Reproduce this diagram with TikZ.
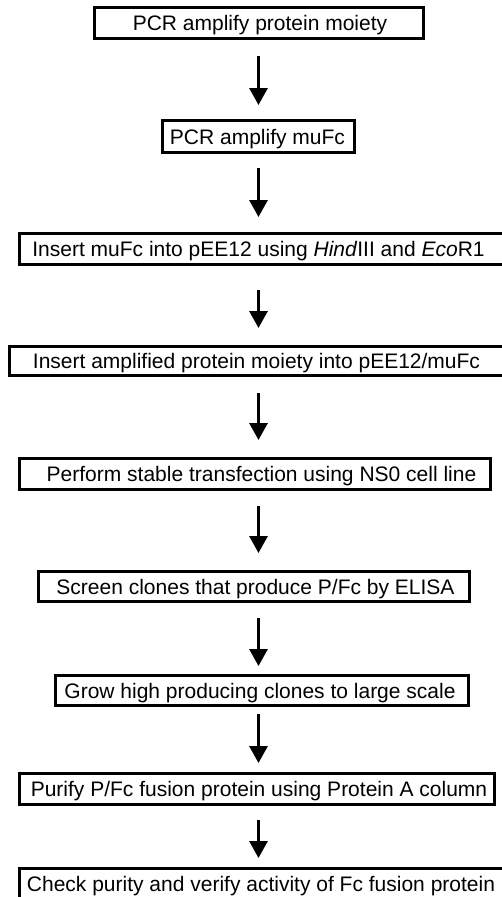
\documentclass[tikz,border=0pt]{standalone}
\usepackage{fontspec}
\setmainfont{Liberation Sans}
\usetikzlibrary{arrows.meta}
\tikzset{
  stepbox/.style={draw=black, line width=3pt, inner sep=0pt, fill=white,
    text height=15pt, text depth=0pt, font=\fontsize{21}{25}\selectfont},
  arr/.style={line width=3pt, draw=black, -{Triangle[width=18pt,length=17pt]}}
}
\newcommand{\btext}[3]{\makebox[#1pt]{\kern #2pt #3\kern -#2pt}}
\begin{document}
\begin{tikzpicture}[x=1pt,y=-1pt]
\useasboundingbox (0,0) rectangle (502,897);
\clip (0,0) rectangle (502,897);
\coordinate (axis) at (258.5,0);
\node[stepbox, minimum width=329pt, minimum height=31pt] (b1) at (259,23)
  {\btext{328}{1}{PCR amplify protein moiety}};
\node[stepbox, minimum width=192pt, minimum height=32pt] (b2) at (258.5,136.5)
  {\btext{191}{-1}{PCR amplify muFc}};
\node[stepbox, minimum width=499pt, minimum height=31pt] (b3) at (269,249)
  {\btext{498}{-10.5}{Insert muFc into pEE12 using \textit{Hind}III and \textit{Eco}R1}};
\node[stepbox, minimum width=509pt, minimum height=29pt] (b4) at (264,361)
  {\btext{508}{-7.5}{Insert amplified protein moiety into pEE12/muFc}};
\node[stepbox, minimum width=471pt, minimum height=31pt] (b5) at (255,474)
  {\btext{470}{6.5}{Perform stable transfection using NS0 cell line}};
\node[stepbox, minimum width=431pt, minimum height=30pt] (b6) at (254,586.5)
  {\btext{430}{1.5}{Screen clones that produce P/Fc by ELISA}};
\node[stepbox, minimum width=413pt, minimum height=30pt] (b7) at (262,690.5)
  {\btext{412}{-2}{Grow high producing clones to large scale}};
\node[stepbox, minimum width=475pt, minimum height=31pt] (b8) at (257,789)
  {\btext{474}{2}{Purify P/Fc fusion protein using Protein A column}};
\node[stepbox, minimum width=499pt, minimum height=31pt] (b9) at (269,884)
  {\btext{498}{-8}{Check purity and verify activity of Fc fusion protein}};
\draw[arr, shorten <=16pt, shorten >=14pt] (b1.south -| axis) -- (b2.north -| axis);
\draw[arr, shorten <=14pt, shorten >=15pt] (b2.south -| axis) -- (b3.north -| axis);
\draw[arr, shorten <=24pt, shorten >=17pt] (b3.south -| axis) -- (b4.north -| axis);
\draw[arr, shorten <=16pt, shorten >=17pt] (b4.south -| axis) -- (b5.north -| axis);
\draw[arr, shorten <=15pt, shorten >=17pt] (b5.south -| axis) -- (b6.north -| axis);
\draw[arr, shorten <=15pt, shorten >=8pt] (b6.south -| axis) -- (b7.north -| axis);
\draw[arr, shorten <=7pt, shorten >=9pt] (b7.south -| axis) -- (b8.north -| axis);
\draw[arr, shorten <=14pt, shorten >=9pt] (b8.south -| axis) -- (b9.north -| axis);
\end{tikzpicture}
\end{document}
